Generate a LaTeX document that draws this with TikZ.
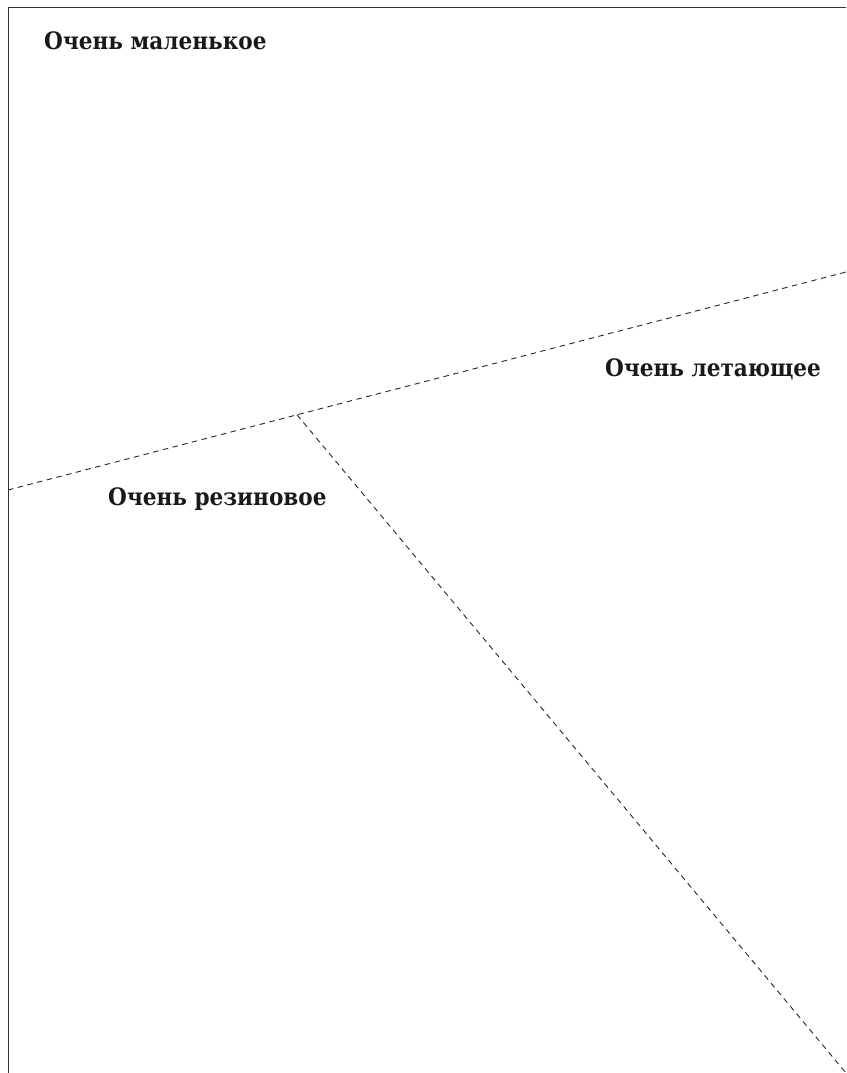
\documentclass[tikz,border=0pt]{standalone}
\usepackage{fontspec}
\setmainfont{DejaVu Serif}
\newfontfamily\lblfont[FakeStretch=0.9]{DejaVu Serif}
\begin{document}
\begin{tikzpicture}[x=1pt,y=-1pt,
  lbl/.style={font=\lblfont\bfseries\fontsize{24}{28}\selectfont, text=black!90, inner sep=0pt},
  frame/.style={line width=1pt, draw=black!80},
  divider/.style={line width=0.9pt, dash pattern=on 5.5pt off 4.5pt, draw=black!85}]
\useasboundingbox (0,0) rectangle (846,1073);
\clip (0,0) rectangle (846,1073);
\coordinate (tl) at (8,8);
\coordinate (tr) at (846,8);
\coordinate (bl) at (8,1073);
\draw[frame] (bl) -- (tl) -- (tr);
\coordinate (a) at (8,490);
\coordinate (b) at (846,272);
\coordinate (j) at (297,414.8);
\coordinate (c) at (846,1073);
\draw[divider] (a) -- (b);
\draw[divider] (j) -- (c);
\node[lbl, anchor=base west] (small) at (44,50) {Очень маленькое};
\node[lbl, anchor=base west] (fly) at (605,376) {Очень летающее};
\node[lbl, anchor=base west] (rubber) at (108,505) {Очень резиновое};
\end{tikzpicture}
\end{document}
